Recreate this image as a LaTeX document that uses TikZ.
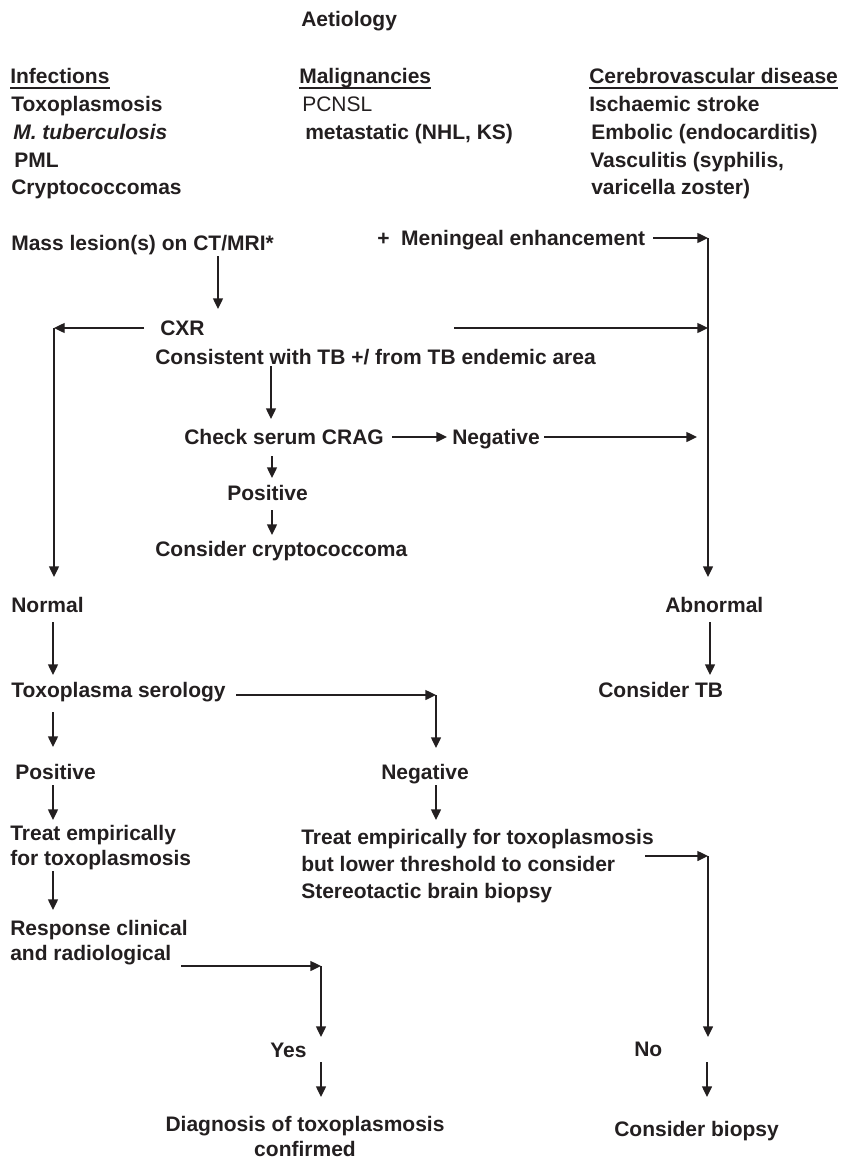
\documentclass[tikz,border=0pt]{standalone}
\usepackage{fontspec}
\setmainfont{Liberation Sans}
\usetikzlibrary{arrows.meta}
\definecolor{ink}{RGB}{35,31,32}
\newcommand\LL[1]{\vtop{\halign{##\hfil\cr#1\crcr}}}
\newcommand\CL[1]{\vtop{\halign{\hfil##\hfil\cr#1\crcr}}}
\begin{document}
\begin{tikzpicture}[x=0.75pt,y=-0.75pt,
  txt/.style={inner sep=0pt,anchor=base west,text=ink,font=\fontsize{15.75}{18.75}\selectfont\bfseries},
  wide/.style={font=\fontsize{15.75}{20.4}\selectfont\bfseries},
  reg/.style={font=\fontsize{15.75}{18.75}\selectfont\mdseries},
  arr/.style={draw=ink,line width=1pt,-{Triangle[length=8pt,width=7.5pt]}},
  ln/.style={draw=ink,line width=1pt},
  uline/.style={draw=ink,line width=1.4pt}]
\useasboundingbox (0,0) rectangle (845,1159);
% ---- aetiology ----
\node[txt] (aet) at (301,27) {Aetiology};
\node[txt] (inf) at (10,84) {Infections};
\node[txt] (mal) at (299,84) {Malignancies};
\node[txt] (cer) at (589,84) {Cerebrovascular disease};
\foreach \n in {inf,mal,cer}
  \draw[uline] ([yshift=-3pt]\n.base west) -- ([yshift=-3pt]\n.base east);
\node[txt] (toxo) at (11,112) {Toxoplasmosis};
\node[txt] (mtb) at (13,140) {\itshape M. tuberculosis};
\node[txt] (pml) at (14,167) {PML};
\node[txt] (cry) at (11,195) {Cryptococcomas};
\node[txt,reg] (pcnsl) at (302,112) {PCNSL};
\node[txt] (meta) at (305,140) {metastatic (NHL, KS)};
\node[txt] (isch) at (589,112) {Ischaemic stroke};
\node[txt] (emb) at (591,140) {Embolic (endocarditis)};
\node[txt] (vasc) at (590,167) {Vasculitis (syphilis,};
\node[txt] (vari) at (591,195) {varicella zoster)};
% ---- flow ----
\node[txt] (mass) at (11,250) {Mass lesion(s) on CT/MRI*};
\node[txt] (men) at (377,245) {+\ \ Meningeal enhancement};
\node[txt] (cxr) at (160,335) {CXR};
\node[txt] (cons) at (155,364) {Consistent with TB +/ from TB endemic area};
\node[txt] (crag) at (184,444) {Check serum CRAG};
\node[txt] (negA) at (452,444) {Negative};
\node[txt] (posA) at (227,500) {Positive};
\node[txt] (ccoma) at (155,556) {Consider cryptococcoma};
\node[txt] (norm) at (11,612) {Normal};
\node[txt] (abn) at (665,612) {Abnormal};
\node[txt] (tser) at (11,697) {Toxoplasma serology};
\node[txt] (ctb) at (598,697) {Consider TB};
\node[txt] (posB) at (15,779) {Positive};
\node[txt] (negB) at (381,779) {Negative};
\node[txt] (treatL) at (10,840) {\LL{Treat empirically\cr for toxoplasmosis}};
\node[txt,wide] (treatR) at (301,844) {\LL{Treat empirically for toxoplasmosis\cr but lower threshold to consider\cr Stereotactic brain biopsy}};
\node[txt] (resp) at (10,935) {\LL{Response clinical\cr and radiological}};
\node[txt] (yes) at (270,1057) {Yes};
\node[txt] (no) at (634,1056) {No};
\node[txt,anchor=base] (diag) at (305,1131) {\CL{Diagnosis of toxoplasmosis\cr confirmed}};
\node[txt] (cbio) at (614,1136) {Consider biopsy};
% ---- connector points ----
\coordinate (kMen) at (708,238);
\coordinate (kMenE) at (653,238);
\coordinate (kAbn) at (708,577);
\coordinate (a1s) at (218,256); \coordinate (a1e) at (218,309);
\coordinate (a2s) at (144,328); \coordinate (a2c) at (54,328); \coordinate (a2e) at (54,577);
\coordinate (a3s) at (454,328); \coordinate (a3e) at (708,328);
\coordinate (a4s) at (271,366); \coordinate (a4e) at (271,419);
\coordinate (a5s) at (392,437); \coordinate (a5e) at (447,437);
\coordinate (a6s) at (544,437); \coordinate (a6e) at (697,437);
\coordinate (a7s) at (272,456); \coordinate (a7e) at (272,478);
\coordinate (a8s) at (272,510); \coordinate (a8e) at (272,535);
\coordinate (a9s) at (53,622); \coordinate (a9e) at (53,675);
\coordinate (a10s) at (710,622); \coordinate (a10e) at (710,675);
\coordinate (a11s) at (236,695); \coordinate (a11c) at (436,695); \coordinate (a11e) at (436,748);
\coordinate (a12s) at (53,712); \coordinate (a12e) at (53,747);
\coordinate (a13s) at (53,785); \coordinate (a13e) at (53,820);
\coordinate (a14s) at (436,785); \coordinate (a14e) at (436,820);
\coordinate (a15s) at (53,871); \coordinate (a15e) at (53,910);
\coordinate (a16s) at (181,966); \coordinate (a16c) at (321,966); \coordinate (a16e) at (321,1037);
\coordinate (a17s) at (645,856); \coordinate (a17c) at (708,856); \coordinate (a17e) at (708,1037);
\coordinate (a18s) at (321,1062); \coordinate (a18e) at (321,1097);
\coordinate (a19s) at (707,1062); \coordinate (a19e) at (707,1097);
% ---- connectors ----
\draw[arr] (kMenE) -- (kMen);
\draw[arr] (kMen) -- (kAbn);
\draw[arr] (a1s) -- (a1e);
\draw[arr] (a2s) -- (a2c);
\draw[arr] (a2c) -- (a2e);
\draw[arr] (a3s) -- (a3e);
\draw[arr] (a4s) -- (a4e);
\draw[arr] (a5s) -- (a5e);
\draw[arr] (a6s) -- (a6e);
\draw[arr] (a7s) -- (a7e);
\draw[arr] (a8s) -- (a8e);
\draw[arr] (a9s) -- (a9e);
\draw[arr] (a10s) -- (a10e);
\draw[arr] (a11s) -- (a11c);
\draw[arr] (a11c) -- (a11e);
\draw[arr] (a12s) -- (a12e);
\draw[arr] (a13s) -- (a13e);
\draw[arr] (a14s) -- (a14e);
\draw[arr] (a15s) -- (a15e);
\draw[arr] (a16s) -- (a16c);
\draw[arr] (a16c) -- (a16e);
\draw[arr] (a17s) -- (a17c);
\draw[arr] (a17c) -- (a17e);
\draw[arr] (a18s) -- (a18e);
\draw[arr] (a19s) -- (a19e);
\end{tikzpicture}
\end{document}
